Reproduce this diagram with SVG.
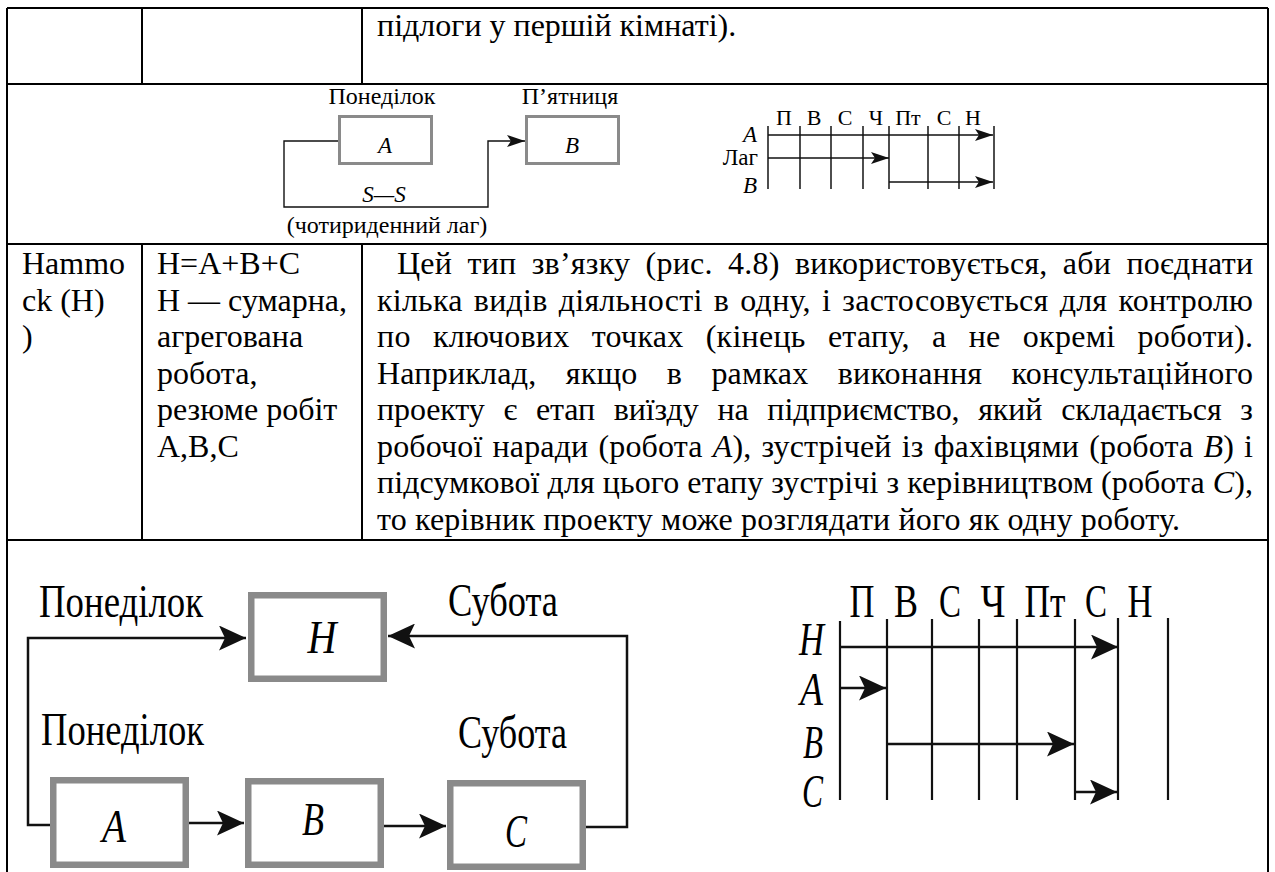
<svg xmlns="http://www.w3.org/2000/svg" width="1275" height="872" viewBox="0 0 1275 872">
<style>
.f{font-family:'Liberation Serif','Times New Roman',serif;fill:#000}
.b{font-size:32px}
.s{font-size:24px}
.si{font-size:23px;font-style:italic}
.d2{font-size:22px}
.L{font-size:46px}
.Li{font-size:46px;font-style:italic}
.grid{stroke:#000;stroke-width:2;fill:none}
.box2{fill:#fff;stroke:#8a8a8a;stroke-width:3}
.box4{fill:#fff;stroke:#8a8a8a;stroke-width:6.5}
.c2{stroke:#111;stroke-width:1.4;fill:none}
.c4{stroke:#111;stroke-width:2.5;fill:none}
.ch2{stroke:#222;stroke-width:1.6;fill:none}
.ch4{stroke:#111;stroke-width:2.2;fill:none}
</style>
<defs>
<marker id="aS" markerUnits="userSpaceOnUse" markerWidth="18" markerHeight="12" refX="18" refY="6" orient="auto" viewBox="0 0 18 12"><path d="M0,0 L18,6 L0,12 L4,6 Z" fill="#111"/></marker>
<marker id="aL" markerUnits="userSpaceOnUse" markerWidth="27" markerHeight="25" refX="27" refY="12.5" orient="auto" viewBox="0 0 27 25"><path d="M0,0 L27,12.5 L0,25 L6,12.5 Z" fill="#111"/></marker>
</defs>
<rect width="1275" height="872" fill="#fff"/>

<g id="table">
<path class="grid" d="M7,8 H1268 M7,8 V872 M1268,8 V872 M7,84 H1268 M7,244 H1268 M7,540 H1268 M142,8 V84 M362,8 V84 M142,244 V540 M362,244 V540"/>
</g>

<g id="row1-text">
<text class="f b" x="377" y="36">підлоги у першій кімнаті).</text>
</g>

<g id="row2-diagram">
<text class="f s" x="382" y="104" text-anchor="middle">Понеділок</text>
<text class="f s" x="570" y="104" text-anchor="middle">П’ятниця</text>
<g id="r2-nodeA"><rect class="box2" x="339.5" y="116.5" width="92" height="47"/><text class="f si" x="385" y="153" text-anchor="middle">A</text></g>
<g id="r2-nodeB"><rect class="box2" x="526.5" y="116.5" width="92" height="47"/><text class="f si" x="572" y="153" text-anchor="middle">B</text></g>
<g id="r2-connectors">
<path class="c2" d="M338,141 H284 V207 H488 V141 H525" marker-end="url(#aS)"/>
</g>
<text class="f si" x="384" y="202" text-anchor="middle">S—S</text>
<text class="f s" x="387" y="233" text-anchor="middle">(чотириденний лаг)</text>
</g>

<g id="row2-chart">
<path class="ch2" d="M768,126 V189 M800,126 V189 M831,126 V189 M863,126 V189 M889,126 V189 M928,126 V189 M959,126 V189 M994,126 V189"/>
<text class="f d2" x="784" y="125" text-anchor="middle">П</text>
<text class="f d2" x="814" y="125" text-anchor="middle">В</text>
<text class="f d2" x="845" y="125" text-anchor="middle">С</text>
<text class="f d2" x="876" y="125" text-anchor="middle">Ч</text>
<text class="f d2" x="908" y="125" text-anchor="middle">Пт</text>
<text class="f d2" x="944" y="125" text-anchor="middle">С</text>
<text class="f d2" x="973" y="125" text-anchor="middle">Н</text>
<text class="f si" x="757" y="142" text-anchor="end">A</text>
<text class="f" style="font-size:23px" x="758" y="165" text-anchor="end">Лаг</text>
<text class="f si" x="757" y="193" text-anchor="end">B</text>
<g id="r2-chart-arrows">
<path class="c2" d="M768,135 H993" marker-end="url(#aS)"/>
<path class="c2" d="M768,158 H889" marker-end="url(#aS)"/>
<path class="c2" d="M889,182 H993" marker-end="url(#aS)"/>
</g>
</g>

<g id="row3-text">
<text class="f b" x="22" y="274">Hammo</text>
<text class="f b" x="22" y="310.5">ck (H)</text>
<text class="f b" x="22" y="347">)</text>
<text class="f b" x="157" y="274">H=A+B+C</text>
<text class="f b" x="157" y="310.5">H — сумарна,</text>
<text class="f b" x="157" y="347">агрегована</text>
<text class="f b" x="157" y="383.5">робота,</text>
<text class="f b" x="157" y="420">резюме робіт</text>
<text class="f b" x="157" y="456.5">A,B,C</text>
<text class="f b" x="397" y="274" word-spacing="7" textLength="856" lengthAdjust="spacing">Цей тип зв’язку (рис. 4.8) використовується, аби поєднати</text>
<text class="f b" x="377" y="310.5" word-spacing="3" textLength="876" lengthAdjust="spacing">кілька видів діяльності в одну, і застосовується для контролю</text>
<text class="f b" x="377" y="347" word-spacing="14" textLength="876" lengthAdjust="spacing">по ключових точках (кінець етапу, а не окремі роботи).</text>
<text class="f b" x="377" y="383.5" word-spacing="21" textLength="876" lengthAdjust="spacing">Наприклад, якщо в рамках виконання консультаційного</text>
<text class="f b" x="377" y="420" word-spacing="11" textLength="876" lengthAdjust="spacing">проекту є етап виїзду на підприємство, який складається з</text>
<text class="f b" x="377" y="456.5" word-spacing="2" textLength="876" lengthAdjust="spacing">робочої наради (робота <tspan font-style="italic">A</tspan>), зустрічей із фахівцями (робота <tspan font-style="italic">B</tspan>) і</text>
<text class="f b" x="377" y="493" textLength="876" lengthAdjust="spacing">підсумкової для цього етапу зустрічі з керівництвом (робота <tspan font-style="italic">C</tspan>),</text>
<text class="f b" x="377" y="529.5" textLength="803" lengthAdjust="spacing">то керівник проекту може розглядати його як одну роботу.</text>
</g>

<g id="row4-diagram">
<text class="f L" x="39" y="617" textLength="164" lengthAdjust="spacingAndGlyphs">Понеділок</text>
<text class="f L" x="448" y="616" textLength="110" lengthAdjust="spacingAndGlyphs">Субота</text>
<text class="f L" x="41" y="745" textLength="163" lengthAdjust="spacingAndGlyphs">Понеділок</text>
<text class="f L" x="458" y="748" textLength="109" lengthAdjust="spacingAndGlyphs">Субота</text>
<g id="nodeH"><rect class="box4" x="251.25" y="595.25" width="132.5" height="83.5"/><text class="f Li" x="322" y="653" text-anchor="middle" textLength="29" lengthAdjust="spacingAndGlyphs">H</text></g>
<g id="nodeA"><rect class="box4" x="53.25" y="780.25" width="132.5" height="84.5"/><text class="f Li" x="114" y="842" text-anchor="middle" textLength="24" lengthAdjust="spacingAndGlyphs">A</text></g>
<g id="nodeB"><rect class="box4" x="248.25" y="781.25" width="132.5" height="83.5"/><text class="f Li" x="313" y="835" text-anchor="middle" textLength="22" lengthAdjust="spacingAndGlyphs">B</text></g>
<g id="nodeC"><rect class="box4" x="450.25" y="783.25" width="132.5" height="83.5"/><text class="f Li" x="516" y="847" text-anchor="middle" textLength="22" lengthAdjust="spacingAndGlyphs">C</text></g>
<g id="row4-connectors">
<path class="c4" d="M50,825 H28 V638 H246" marker-end="url(#aL)"/>
<path class="c4" d="M189,823 H244" marker-end="url(#aL)"/>
<path class="c4" d="M384,826 H446" marker-end="url(#aL)"/>
<path class="c4" d="M586,827 H627 V636 H388" marker-end="url(#aL)"/>
</g>
</g>

<g id="row4-chart">
<path class="ch4" d="M840,621 V800 M887,619 V800 M932,619 V800 M979,619 V800 M1017,619 V800 M1075,619 V800 M1118,618 V800 M1168,618 V800"/>
<text class="f L" x="862" y="617" text-anchor="middle" textLength="25" lengthAdjust="spacingAndGlyphs">П</text>
<text class="f L" x="906" y="617" text-anchor="middle" textLength="24" lengthAdjust="spacingAndGlyphs">В</text>
<text class="f L" x="950" y="617" text-anchor="middle" textLength="22" lengthAdjust="spacingAndGlyphs">С</text>
<text class="f L" x="993" y="617" text-anchor="middle" textLength="25" lengthAdjust="spacingAndGlyphs">Ч</text>
<text class="f L" x="1045" y="617" text-anchor="middle" textLength="41" lengthAdjust="spacingAndGlyphs">Пт</text>
<text class="f L" x="1096" y="617" text-anchor="middle" textLength="22" lengthAdjust="spacingAndGlyphs">С</text>
<text class="f L" x="1140" y="617" text-anchor="middle" textLength="25" lengthAdjust="spacingAndGlyphs">Н</text>
<text class="f Li" x="824" y="655" text-anchor="end" textLength="25" lengthAdjust="spacingAndGlyphs">H</text>
<text class="f Li" x="823" y="705" text-anchor="end" textLength="23" lengthAdjust="spacingAndGlyphs">A</text>
<text class="f Li" x="823" y="758" text-anchor="end" textLength="20" lengthAdjust="spacingAndGlyphs">B</text>
<text class="f Li" x="823" y="807" text-anchor="end" textLength="21" lengthAdjust="spacingAndGlyphs">C</text>
<g id="r4-chart-arrows">
<path class="c4" d="M840,647 H1118" marker-end="url(#aL)"/>
<path class="c4" d="M840,688 H886" marker-end="url(#aL)"/>
<path class="c4" d="M887,744 H1074" marker-end="url(#aL)"/>
<path class="c4" d="M1075,792 H1117" marker-end="url(#aL)"/>
</g>
</g>
</svg>
